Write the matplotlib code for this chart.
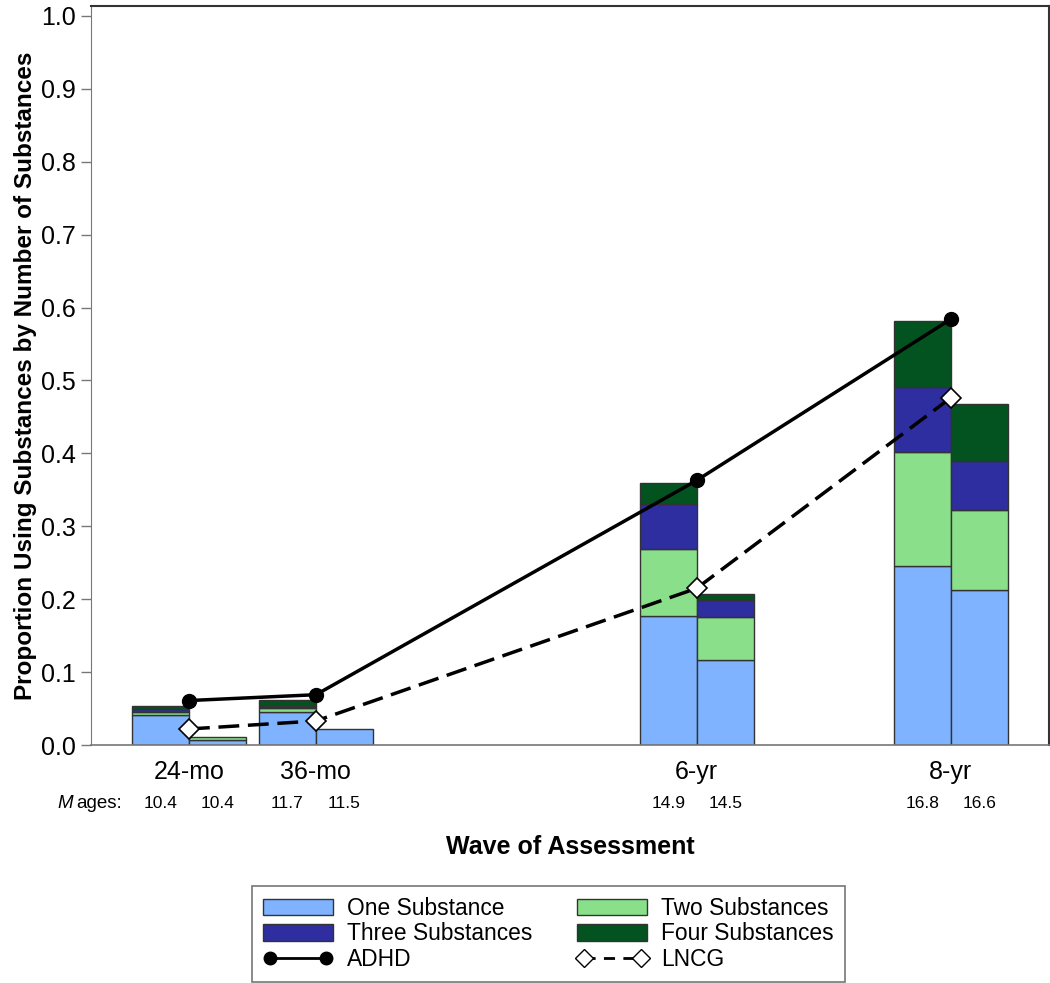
import matplotlib as mpl
import matplotlib.pyplot as plt
import matplotlib.transforms as mtransforms
from matplotlib.patches import Patch
from matplotlib.lines import Line2D
import numpy as np

# wave positions (months) and labels
waves = [24, 36, 72, 96]
wave_labels = ['24-mo', '36-mo', '6-yr', '8-yr']

# mean ages per group
ages_adhd = [10.4, 11.7, 14.9, 16.8]
ages_lncg = [10.4, 11.5, 14.5, 16.6]

# stacked proportions, ADHD group
one_adhd = [0.041, 0.045, 0.177, 0.246]
two_adhd = [0.004, 0.006, 0.092, 0.156]
three_adhd = [0.004, 0.003, 0.061, 0.089]
four_adhd = [0.005, 0.008, 0.029, 0.090]

# stacked proportions, LNCG group
one_lncg = [0.007, 0.022, 0.116, 0.212]
two_lncg = [0.004, 0.0, 0.060, 0.110]
three_lncg = [0.0, 0.0, 0.023, 0.068]
four_lncg = [0.0, 0.0, 0.008, 0.078]

# any-use lines
line_adhd = [0.061, 0.069, 0.363, 0.584]
line_lncg = [0.022, 0.033, 0.215, 0.476]

colors = ['#7FB2FF', '#8ADF8A', '#2E2EA0', '#02531F']
names = ['One Substance', 'Two Substances', 'Three Substances', 'Four Substances']

plt.rcParams['font.family'] = ['Liberation Sans', 'DejaVu Sans']

fig = plt.figure(figsize=(10.5, 9.83), dpi=100)
ax = fig.add_axes([0.0867, 0.2421, 0.9123, 0.7518])

w = 5.39
x = np.array(waves, dtype=float)


def stack(left, layers):
    bottom = np.zeros(len(left))
    for vals, c in zip(layers, colors):
        vals = np.array(vals)
        keep = vals > 0
        ax.bar(left[keep], vals[keep], width=w, bottom=bottom[keep], align='edge',
               color=c, edgecolor='#333333', linewidth=1, zorder=2)
        bottom += vals


stack(x - w, [one_adhd, two_adhd, three_adhd, four_adhd])
stack(x, [one_lncg, two_lncg, three_lncg, four_lncg])

ax.plot(x, line_adhd, color='black', linestyle='-', linewidth=2.5,
        marker='o', markersize=10, zorder=4)
ax.plot(x, line_lncg, color='black', linestyle=(0, (6, 2.5)), linewidth=2.5,
        marker='D', markersize=10.5, markerfacecolor='white',
        markeredgecolor='black', markeredgewidth=1.2, zorder=4)

ax.set_xlim(14.74, 105.3)
ax.set_ylim(0, 1.0137)
ax.set_yticks(np.arange(0, 1.01, 0.1))
ax.set_yticklabels(['%.1f' % v for v in np.arange(0, 1.01, 0.1)])
ax.set_xticks(x)
ax.set_xticklabels(wave_labels)
ax.tick_params(axis='y', labelsize=18, length=7, width=1, color='#777777', pad=4)
ax.tick_params(axis='x', labelsize=18, length=0, pad=11)

for s in ['top', 'right']:
    ax.spines[s].set_color('#333333')
    ax.spines[s].set_linewidth(1.5)
ax.spines['left'].set_color('#777777')
ax.spines['bottom'].set_color('#777777')
ax.spines['bottom'].set_linewidth(1.2)

ax.set_ylabel('Proportion Using Substances by Number of Substances',
              fontsize=17.5, fontweight='bold', labelpad=3)
ax.set_xlabel('Wave of Assessment', fontsize=18, fontweight='bold', labelpad=36.5)

# mean age row
trans = mtransforms.blended_transform_factory(ax.transData, ax.transAxes)
age_y = -0.0785
for xi, a1, a2 in zip(x, ages_adhd, ages_lncg):
    ax.text(xi - w / 2, age_y, '%.1f' % a1, transform=trans, ha='center',
            va='center', fontsize=12.5)
    ax.text(xi + w / 2, age_y, '%.1f' % a2, transform=trans, ha='center',
            va='center', fontsize=12.5)
ax.text(17.7, age_y, 'ages:', transform=trans, ha='right', va='center', fontsize=13.5)
ax.text(13.0, age_y, 'M', transform=trans, ha='right', va='center',
        fontsize=13.5, style='italic')

handles = [Patch(facecolor=colors[0], edgecolor='#333333', label=names[0]),
           Patch(facecolor=colors[2], edgecolor='#333333', label=names[2]),
           Line2D([], [], color='black', linestyle='-', linewidth=2, marker='o',
                  markersize=9, label='ADHD'),
           Patch(facecolor=colors[1], edgecolor='#333333', label=names[1]),
           Patch(facecolor=colors[3], edgecolor='#333333', label=names[3]),
           Line2D([], [], color='black', linestyle=(0, (4, 3)), linewidth=2, marker='D',
                  markersize=9, markerfacecolor='white', markeredgecolor='black',
                  label='LNCG')]
leg = fig.legend(handles=handles, loc='upper left', bbox_to_anchor=(252 / 1050, 1 - 886 / 983),
                 ncol=2, fontsize=16.4, frameon=True, fancybox=False, handlelength=3.07,
                 handleheight=0.75, labelspacing=0.11, columnspacing=2.0,
                 borderpad=0.48, handletextpad=0.6, borderaxespad=0, numpoints=2)
leg.get_frame().set_edgecolor('#555555')
leg.get_frame().set_linewidth(1.2)

plt.savefig('out.png', dpi=100)
